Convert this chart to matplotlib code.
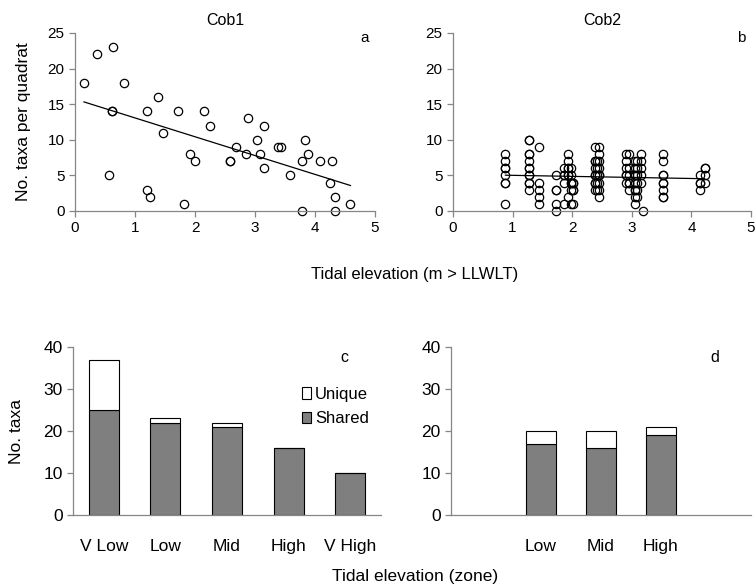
import numpy as np
import matplotlib
matplotlib.use("Agg")
import matplotlib.pyplot as plt
from matplotlib.patches import Patch

# Cob1 quadrat data (tidal elevation m, taxa per quadrat)
cob1_x = [0.15, 0.36, 0.64, 0.81, 0.61, 0.61, 0.57, 1.20, 1.38, 1.46, 1.20, 1.25,
          1.71, 1.81, 1.91, 2.00, 2.15, 2.25, 2.59, 2.59, 2.69, 2.85, 2.89, 3.04,
          3.09, 3.15, 3.15, 3.39, 3.44, 3.59, 3.79, 3.79, 3.84, 3.89, 4.09, 4.29,
          4.25, 4.34, 4.34, 4.59]
cob1_y = [18, 22, 23, 18, 14, 14, 5, 14, 16, 11, 3, 2,
          14, 1, 8, 7, 14, 12, 7, 7, 9, 8, 13, 10,
          8, 12, 6, 9, 9, 5, 7, 0, 10, 8, 7, 7,
          4, 2, 0, 1]

# Cob2 quadrat data, grouped by elevation column
cob2_cols = [0.88, 1.27, 1.44, 1.73, 1.87, 1.93, 1.98, 2.02, 2.38, 2.42, 2.45,
             2.90, 2.96, 3.05, 3.08, 3.15, 3.18, 3.52, 4.15, 4.22]
cob2_vals = [[8, 7, 6, 6, 5, 4, 4, 1],
             [10, 10, 8, 8, 7, 6, 6, 5, 5, 4, 4, 3],
             [9, 4, 3, 2, 1],
             [5, 3, 3, 1, 0],
             [6, 5, 5, 4, 1],
             [8, 7, 6, 6, 5, 5, 2],
             [6, 5, 4, 4, 3, 1],
             [4, 4, 3, 3, 1],
             [9, 7, 7, 6, 5, 5, 4, 4, 3],
             [7, 6, 5, 4, 3],
             [9, 8, 7, 6, 5, 5, 4, 3, 2],
             [8, 7, 6, 5, 5, 4],
             [8, 6, 5, 4, 4, 3],
             [7, 6, 5, 5, 4, 3, 3, 2, 1],
             [7, 6, 5, 4, 3, 2],
             [8, 7, 6, 5, 4],
             [0],
             [8, 7, 5, 5, 4, 4, 3, 2, 2],
             [5, 4, 4, 3],
             [6, 6, 5, 4]]

# zone bar data
zones_c = ["V Low", "Low", "Mid", "High", "V High"]
shared_c = [25, 22, 21, 16, 10]
unique_c = [12, 1, 1, 0, 0]

zones_d = ["Low", "Mid", "High"]
shared_d = [17, 16, 19]
unique_d = [3, 4, 2]

cob2_x = [x for x, v in zip(cob2_cols, cob2_vals) for _ in v]
cob2_y = [y for v in cob2_vals for y in v]

W, H = 755, 587
fig = plt.figure(figsize=(W / 100, H / 100), dpi=100)

def px_axes(left, top, right, bottom):
    return fig.add_axes([left / W, 1 - bottom / H, (right - left) / W, (bottom - top) / H])

axis_col = "#868686"
arial = "Liberation Sans"

def style(ax, xticks_on=True):
    for s in ["top", "right"]:
        ax.spines[s].set_visible(False)
    for s in ["left", "bottom"]:
        ax.spines[s].set_color(axis_col)
        ax.spines[s].set_linewidth(0.9)
    ax.tick_params(axis="y", direction="out", length=4, color=axis_col, width=0.9)
    if xticks_on:
        ax.tick_params(axis="x", direction="out", length=4, color=axis_col, width=0.9)
    else:
        ax.tick_params(axis="x", length=0)

def scatter_panel(ax, x, y, title, letter):
    ax.plot(x, y, "o", ms=6, mfc="none", mec="black", mew=0.9, clip_on=False)
    k, b = np.polyfit(x, y, 1)
    xs = np.array([min(x), max(x)])
    ax.plot(xs, k * xs + b, color="black", lw=0.9)
    ax.set_xlim(0, 5)
    ax.set_ylim(0, 25)
    ax.set_xticks(range(6))
    ax.set_yticks(range(0, 26, 5))
    style(ax)
    for lab in ax.get_xticklabels() + ax.get_yticklabels():
        lab.set_fontfamily(arial)
        lab.set_fontsize(11)
    ax.set_title(title, fontsize=11.5, fontfamily=arial, pad=6)
    ax.text(0.98, 0.97, letter, transform=ax.transAxes, ha="right", va="center",
            fontsize=11, fontfamily=arial)

ax_a = px_axes(75, 33, 375, 211)
scatter_panel(ax_a, cob1_x, cob1_y, "Cob1", "a")
ax_a.set_ylabel("No. taxa per quadrat", fontsize=12.5, fontfamily=arial, labelpad=12)

ax_b = px_axes(453, 33, 751, 211)
scatter_panel(ax_b, cob2_x, cob2_y, "Cob2", "b")

fig.text(415 / W, 1 - 275 / H, "Tidal elevation (m > LLWLT)", ha="center", va="center",
         fontsize=12, fontfamily=arial)

def bar_panel(ax, pos, cats, shared, unique, letter):
    ax.bar(pos, shared, width=0.49, color="#7f7f7f", edgecolor="black", lw=0.8, label="Shared")
    ax.bar(pos, unique, bottom=shared, width=0.49, color="white", edgecolor="black", lw=0.8,
           label="Unique")
    ax.set_xlim(-0.5, 4.5)
    ax.set_ylim(0, 40)
    ax.set_yticks(range(0, 41, 10))
    ax.set_xticks(pos)
    ax.set_xticklabels(cats)
    style(ax, xticks_on=False)
    ax.tick_params(axis="x", pad=17)
    for lab in ax.get_xticklabels() + ax.get_yticklabels():
        lab.set_fontfamily(arial)
        lab.set_fontsize(12.5)
    ax.text(0.88, 0.94, letter, transform=ax.transAxes, ha="center", va="center",
            fontsize=11.5, fontfamily=arial)

ax_c = px_axes(73, 347, 381, 515)
bar_panel(ax_c, np.arange(5), zones_c, shared_c, unique_c, "c")
ax_c.set_ylabel("No. taxa", fontsize=12.5, fontfamily=arial, labelpad=14)
handles = [Patch(facecolor="white", edgecolor="black", lw=0.8),
           Patch(facecolor="#7f7f7f", edgecolor="black", lw=0.8)]
ax_c.legend(handles, ["Unique", "Shared"], loc="center left", bbox_to_anchor=(0.715, 0.645),
            frameon=False, handlelength=0.55, handleheight=0.7, handletextpad=0.25,
            labelspacing=0.55, borderpad=0, prop={"family": arial, "size": 12})

ax_d = px_axes(451, 347, 751, 515)
bar_panel(ax_d, np.arange(1, 4), zones_d, shared_d, unique_d, "d")

fig.text(415 / W, 1 - 577 / H, "Tidal elevation (zone)", ha="center", va="center",
         fontsize=12.5, fontfamily=arial)

fig.savefig("out.png", dpi=100)
